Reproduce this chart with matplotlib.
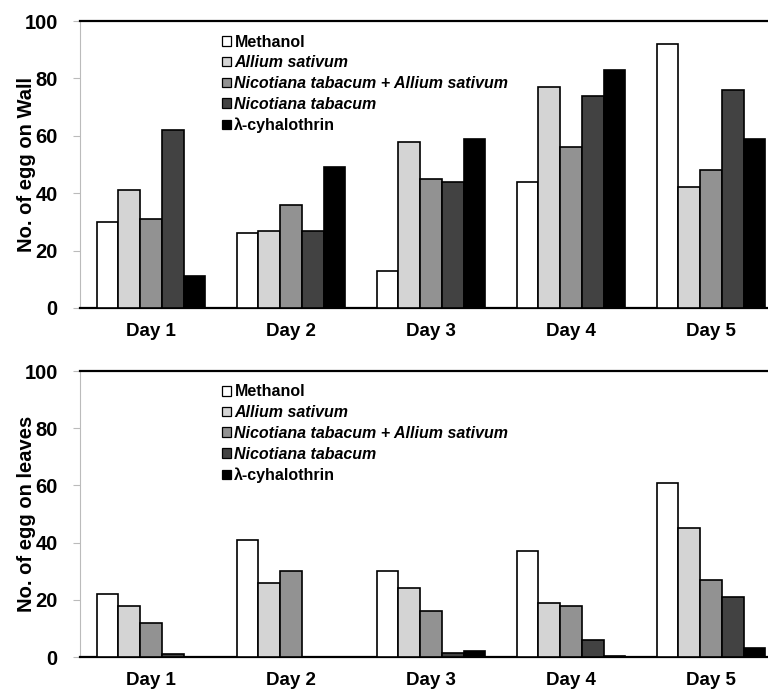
import matplotlib
matplotlib.use("Agg")
import matplotlib.pyplot as plt
import numpy as np

plt.rcParams['font.family'] = ['Liberation Sans', 'DejaVu Sans']

days = ["Day 1", "Day 2", "Day 3", "Day 4", "Day 5"]
series = ["Methanol", "Allium sativum", "Nicotiana tabacum + Allium sativum",
          "Nicotiana tabacum", "\u03bb-cyhalothrin"]
italic = [False, True, True, True, False]
colors = ["#ffffff", "#d4d4d4", "#929292", "#424242", "#000000"]

wall = [
    [30, 26, 13, 44, 92],   # Methanol
    [41, 27, 58, 77, 42],   # Allium sativum
    [31, 36, 45, 56, 48],   # N. tabacum + A. sativum
    [62, 27, 44, 74, 76],   # N. tabacum
    [11, 49, 59, 83, 59],   # lambda-cyhalothrin
]
leaves = [
    [22, 41, 30, 37, 61],
    [18, 26, 24, 19, 45],
    [12, 30, 16, 18, 27],
    [1, 0, 1.5, 6, 21],
    [0, 0, 2, 0.5, 3],
]
yticks = [0, 20, 40, 60, 80, 100]

fig = plt.figure(figsize=(7.68, 6.94), dpi=100)
ax1 = fig.add_axes([0.1042, 0.5562, 0.8958, 0.4135])
ax2 = fig.add_axes([0.1042, 0.0533, 0.8958, 0.4121])

x = np.arange(len(days))
bw = 0.155

for ax, data, ylabel in [(ax1, wall, "No. of egg on Wall"), (ax2, leaves, "No. of egg on leaves")]:
    for i, (vals, c, lab) in enumerate(zip(data, colors, series)):
        ax.bar(x + (i - 2) * bw, vals, width=bw, color=c, edgecolor="black",
               linewidth=1.2, label=lab, zorder=3)
    ax.set_xlim(-0.507, 4.407)
    ax.set_ylim(0, 100)
    ax.set_yticks(yticks)
    ax.set_yticklabels([str(t) for t in yticks], fontsize=14.5, fontweight="bold")
    ax.set_xticks(x)
    ax.set_xticklabels(days, fontsize=13.5, fontweight="bold")
    ax.tick_params(axis="x", length=0, pad=11)
    ax.tick_params(axis="y", length=5, width=0.8, color="#bbbbbb", pad=11)
    ax.spines["right"].set_visible(False)
    ax.spines["top"].set_linewidth(1.6)
    ax.spines["bottom"].set_linewidth(1.6)
    ax.spines["left"].set_color("#bbbbbb")
    ax.spines["left"].set_linewidth(0.8)
    ax.set_ylabel(ylabel, fontsize=14.5, fontweight="bold")
    ax.yaxis.set_label_coords(-0.064, 0.5)
    leg = ax.legend(loc="upper left", bbox_to_anchor=(0.207, 0.953), frameon=False,
                    fontsize=11.5, handlelength=0.55, handleheight=0.55,
                    handletextpad=0.2, labelspacing=0.36, borderpad=0, borderaxespad=0)
    for t, it in zip(leg.get_texts(), italic):
        t.set_fontweight("bold")
        if it:
            t.set_fontstyle("italic")
    for h in leg.legend_handles:
        h.set_linewidth(0.9)

fig.savefig("out.png", dpi=100)
